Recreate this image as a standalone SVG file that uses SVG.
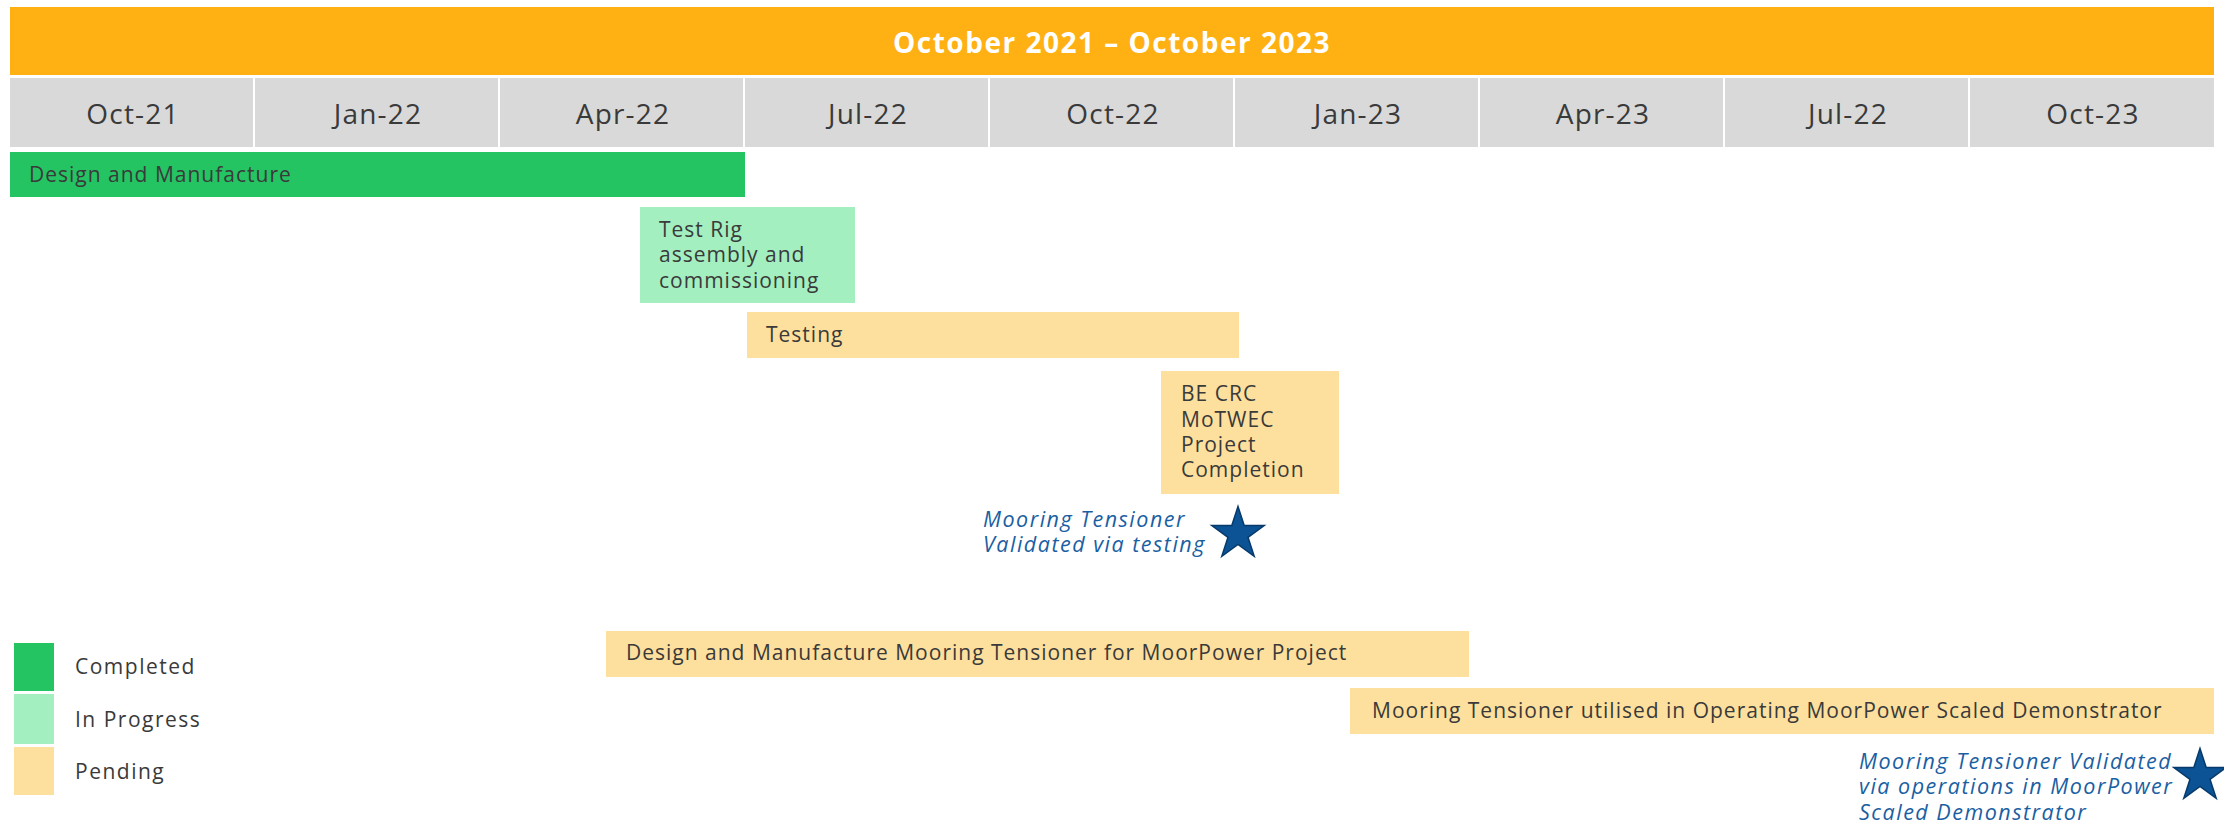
<svg xmlns="http://www.w3.org/2000/svg" width="2224" height="825" viewBox="0 0 2224 825">
<style>
  .t{font-family:"Open Sans","Liberation Sans",sans-serif;fill:#3a3a3a;font-size:21px;letter-spacing:1px}
  .lg{letter-spacing:1.5px}
  .m{font-family:"Open Sans","Liberation Sans",sans-serif;fill:#3a3a3a;font-size:28px;text-anchor:middle;letter-spacing:1.2px}
  .ms{font-family:"Open Sans","Liberation Sans",sans-serif;fill:#1b5fa3;font-size:21.5px;font-style:italic;letter-spacing:1.5px}
  .cell{fill:#d9d9d9}
  .done{fill:#24c463}
  .prog{fill:#a3efc0}
  .pend{fill:#fee09e}
  .star{fill:#0b5394;stroke:#073a6b;stroke-width:1.5}
</style>
<defs>
  <polygon id="star" points="0,-27.5 6.2,-8.5 26.2,-8.5 10,3.3 16.2,22.3 0,10.5 -16.2,22.3 -10,3.3 -26.2,-8.5 -6.2,-8.5"/>
</defs>
<rect width="2224" height="825" fill="#ffffff"/>
<g id="header">
  <rect x="10" y="7" width="2204" height="68" fill="#ffb114"/>
  <text x="1112" y="53" text-anchor="middle" style="font-family:'Open Sans','Liberation Sans',sans-serif;font-weight:bold;font-size:28px;fill:#ffffff;letter-spacing:1.5px">October 2021 – October 2023</text>
</g>
<g id="months">
  <rect class="cell" x="10" y="78" width="243" height="69"/>
  <rect class="cell" x="255" y="78" width="243" height="69"/>
  <rect class="cell" x="500" y="78" width="243" height="69"/>
  <rect class="cell" x="745" y="78" width="243" height="69"/>
  <rect class="cell" x="990" y="78" width="243" height="69"/>
  <rect class="cell" x="1235" y="78" width="243" height="69"/>
  <rect class="cell" x="1480" y="78" width="243" height="69"/>
  <rect class="cell" x="1725" y="78" width="243" height="69"/>
  <rect class="cell" x="1970" y="78" width="244" height="69"/>
  <text class="m" x="133" y="124">Oct-21</text>
  <text class="m" x="378" y="124">Jan-22</text>
  <text class="m" x="623" y="124">Apr-22</text>
  <text class="m" x="868" y="124">Jul-22</text>
  <text class="m" x="1113" y="124">Oct-22</text>
  <text class="m" x="1358" y="124">Jan-23</text>
  <text class="m" x="1603" y="124">Apr-23</text>
  <text class="m" x="1848" y="124">Jul-22</text>
  <text class="m" x="2093" y="124">Oct-23</text>
</g>
<g id="task-design">
  <rect class="done" x="10" y="152" width="735" height="45"/>
  <text class="t" x="29" y="182">Design and Manufacture</text>
</g>
<g id="task-testrig">
  <rect class="prog" x="640" y="207" width="215" height="96"/>
  <text class="t" x="659" y="237">Test Rig</text>
  <text class="t" x="659" y="262">assembly and</text>
  <text class="t" x="659" y="288">commissioning</text>
</g>
<g id="task-testing">
  <rect class="pend" x="747" y="312" width="492" height="46"/>
  <text class="t" x="766" y="342">Testing</text>
</g>
<g id="task-becrc">
  <rect class="pend" x="1161" y="371" width="178" height="123"/>
  <text class="t" x="1181" y="401">BE CRC</text>
  <text class="t" x="1181" y="427">MoTWEC</text>
  <text class="t" x="1181" y="452">Project</text>
  <text class="t" x="1181" y="477">Completion</text>
</g>
<g id="milestone-1">
  <text class="ms" x="983" y="527">Mooring Tensioner</text>
  <text class="ms" x="983" y="552">Validated via testing</text>
  <use href="#star" class="star" x="1238" y="534"/>
</g>
<g id="task-moorpower-design">
  <rect class="pend" x="606" y="631" width="863" height="46"/>
  <text class="t" x="626" y="660">Design and Manufacture Mooring Tensioner for MoorPower Project</text>
</g>
<g id="task-moorpower-ops">
  <rect class="pend" x="1350" y="688" width="864" height="46"/>
  <text class="t" x="1372" y="718">Mooring Tensioner utilised in Operating MoorPower Scaled Demonstrator</text>
</g>
<g id="milestone-2">
  <text class="ms" x="1859" y="769">Mooring Tensioner Validated</text>
  <text class="ms" x="1859" y="794">via operations in MoorPower</text>
  <text class="ms" x="1859" y="820">Scaled Demonstrator</text>
  <use href="#star" class="star" x="2200" y="776"/>
</g>
<g id="legend">
  <rect class="done" x="14" y="643" width="40" height="48"/>
  <rect class="prog" x="14" y="694" width="40" height="50"/>
  <rect class="pend" x="14" y="747" width="40" height="48"/>
  <text class="t lg" x="75" y="674">Completed</text>
  <text class="t lg" x="75" y="727">In Progress</text>
  <text class="t lg" x="75" y="779">Pending</text>
</g>
<g id="connectors"/>
</svg>
